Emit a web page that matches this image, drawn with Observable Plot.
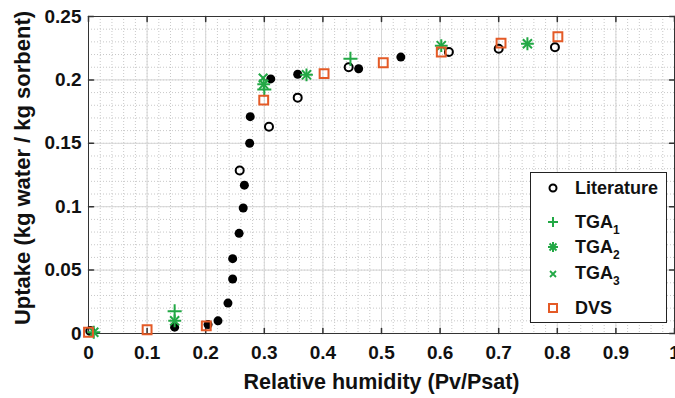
<!DOCTYPE html>
<html><head><meta charset="utf-8">
<script src="https://cdn.jsdelivr.net/npm/d3@7"></script>
<script src="https://cdn.jsdelivr.net/npm/@observablehq/plot@0.6"></script>
<style>
body{margin:0;background:#fff;font-family:"Liberation Sans",Arial,sans-serif;}
#wrap{position:relative;width:675px;height:398px;overflow:hidden;}
#legend{position:absolute;left:530px;top:172px;width:137px;height:151px;border:1px solid #222;background:#fff;box-sizing:border-box;}
.row{position:absolute;left:0;width:130px;height:22px;font-weight:bold;font-size:18px;line-height:22px;color:#111;}
.row svg{position:absolute;left:15px;top:4px;}
.row span.t{position:absolute;left:44px;top:0;white-space:nowrap;}
.row sub{font-size:12px;vertical-align:-6px;line-height:0;}
</style></head>
<body><div id="wrap"></div>
<script>
// ---- data ----
const litOpenX   = [0.003, 0.258, 0.308, 0.357, 0.444, 0.615, 0.700, 0.796];
const litOpenY   = [0.002, 0.1285, 0.163, 0.186, 0.210, 0.222, 0.2245, 0.2258];
const litFilledX = [0.147, 0.204, 0.221, 0.238, 0.246, 0.246, 0.257, 0.264, 0.266, 0.275, 0.276, 0.311, 0.357, 0.461, 0.533];
const litFilledY = [0.005, 0.007, 0.010, 0.024, 0.043, 0.059, 0.079, 0.099, 0.117, 0.150, 0.171, 0.2008, 0.2045, 0.2088, 0.218];
const tga1X = [0.147, 0.300, 0.447];
const tga1Y = [0.0175, 0.1925, 0.2166];
const tga2X = [0.009, 0.147, 0.299, 0.372, 0.602, 0.749];
const tga2Y = [0.001, 0.010, 0.1965, 0.204, 0.227, 0.2285];
const tga3X = [0.298];
const tga3Y = [0.2015];
const dvsX = [0.000, 0.100, 0.201, 0.299, 0.402, 0.503, 0.602, 0.704, 0.801];
const dvsY = [0.001, 0.003, 0.006, 0.184, 0.205, 0.2135, 0.222, 0.229, 0.234];

const xTicks = [0, 0.1, 0.2, 0.3, 0.4, 0.5, 0.6, 0.7, 0.8, 0.9, 1];
const yTicks = [0, 0.05, 0.1, 0.15, 0.2, 0.25];
const xLabel = "Relative humidity (Pv/Psat)";
const yLabel = "Uptake (kg water / kg sorbent)";
const legendNames = ["Literature", "TGA|1", "TGA|2", "TGA|3", "DVS"];

const green = "#22a845";
const orange = "#e45a26";

const pts = (xs, ys) => xs.map((x, i) => ({x, y: ys[i]}));
const xMinor = d3.range(0, 1.0001, 0.02);
const yMinor = d3.range(0, 0.2501, 0.01);
const fmt = d => String(+d.toFixed(2));
const tickShape = {draw(ctx, l) { ctx.moveTo(0, 0); ctx.lineTo(0, -l); }};

const plot = Plot.plot({
  width: 675, height: 398,
  marginLeft: 88, marginRight: 1, marginTop: 16, marginBottom: 65,
  x: {domain: [0, 1]},
  y: {domain: [0, 0.25]},
  style: {fontFamily: "'Liberation Sans', Arial, sans-serif", fontWeight: "bold", fontSize: "19px", color: "#111", background: "#fff", overflow: "visible"},
  marks: [
    Plot.ruleX(xMinor, {x: d => d, stroke: "#c8c8c8", strokeDasharray: "1,2", strokeOpacity: 1}),
    Plot.ruleY(yMinor, {y: d => d, stroke: "#c8c8c8", strokeDasharray: "1,2", strokeOpacity: 1}),
    Plot.ruleX(xTicks, {x: d => d, stroke: "#d6d6d6"}),
    Plot.ruleY(yTicks, {y: d => d, stroke: "#d6d6d6"}),
    Plot.frame({stroke: "#333"}),
    Plot.vector(xTicks, {x: d => d, y: 0, length: 5, rotate: 0, anchor: "start", shape: tickShape, stroke: "#333"}),
    Plot.vector(xTicks, {x: d => d, y: 0.25, length: 5, rotate: 180, anchor: "start", shape: tickShape, stroke: "#333"}),
    Plot.vector(yTicks, {y: d => d, x: 0, length: 5, rotate: 90, anchor: "start", shape: tickShape, stroke: "#333"}),
    Plot.vector(yTicks, {y: d => d, x: 1, length: 5, rotate: -90, anchor: "start", shape: tickShape, stroke: "#333"}),
    Plot.axisX({ticks: xTicks, tickSize: 0, tickPadding: 12, tickFormat: fmt, label: null, fontSize: 19}),
    Plot.axisY({ticks: yTicks, tickSize: 0, tickPadding: 7, tickFormat: fmt, label: null, fontSize: 19}),
    Plot.text([xLabel], {text: d => d, frameAnchor: "bottom", textAnchor: "middle", lineAnchor: "middle", dy: 49, fontSize: 21.5, fontWeight: "bold", fill: "#111"}),
    Plot.text([yLabel], {text: d => d, frameAnchor: "left", textAnchor: "middle", lineAnchor: "middle", dx: -66, dy: -7, rotate: -90, fontSize: 22, fontWeight: "bold", fill: "#111"}),
    Plot.dot(pts(litFilledX, litFilledY), {x: "x", y: "y", r: 4.5, fill: "#000", stroke: "none"}),
    Plot.dot(pts(litOpenX, litOpenY), {x: "x", y: "y", r: 4, stroke: "#000", strokeWidth: 2, fill: "none"}),
    Plot.dot(pts(tga1X, tga1Y), {x: "x", y: "y", symbol: "plus", r: 4.6, stroke: green, strokeWidth: 2}),
    Plot.dot(pts(tga2X, tga2Y), {x: "x", y: "y", symbol: "plus", r: 4.2, stroke: green, strokeWidth: 2}),
    Plot.dot(pts(tga2X, tga2Y), {x: "x", y: "y", symbol: "times", r: 4.2, stroke: green, strokeWidth: 2}),
    Plot.dot(pts(tga3X, tga3Y), {x: "x", y: "y", symbol: "times", r: 4, stroke: green, strokeWidth: 2}),
    Plot.dot(pts(dvsX, dvsY), {x: "x", y: "y", symbol: "square", r: 5, stroke: orange, strokeWidth: 2, fill: "none"})
  ]
});
const wrap = document.getElementById("wrap");
wrap.appendChild(plot);

// legend overlay
const markers = [
  `<circle cx="7" cy="7" r="3.5" fill="none" stroke="#000" stroke-width="2"/>`,
  `<path d="M2,7H12M7,2V12" stroke="${green}" stroke-width="2"/>`,
  `<path d="M2,7H12M7,2V12M3.5,3.5L10.5,10.5M3.5,10.5L10.5,3.5" stroke="${green}" stroke-width="2"/>`,
  `<path d="M4,5L10,11M4,11L10,5" stroke="${green}" stroke-width="1.8"/>`,
  `<rect x="3" y="3" width="8" height="8" fill="none" stroke="${orange}" stroke-width="2"/>`
];
const rowTops = [4, 38, 63, 89, 124];
const legend = document.createElement("div");
legend.id = "legend";
legendNames.forEach((n, i) => {
  const [base, sub] = n.split("|");
  const row = document.createElement("div");
  row.className = "row";
  row.style.top = rowTops[i] + "px";
  row.innerHTML = `<svg width="14" height="14">${markers[i]}</svg><span class="t">${base}${sub ? `<sub>${sub}</sub>` : ""}</span>`;
  legend.appendChild(row);
});
wrap.appendChild(legend);
</script>
</body></html>
